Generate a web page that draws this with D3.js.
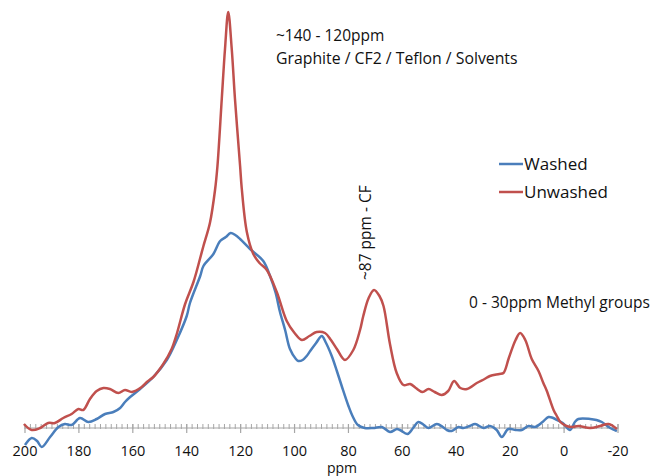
<!DOCTYPE html>
<html>
<head>
<meta charset="utf-8">
<script src="https://cdn.jsdelivr.net/npm/d3@7"></script>
<style>
  body { margin: 0; background: #fff; }
  text { font-family: "Open Sans", "Liberation Sans", sans-serif; fill: #111; }
</style>
</head>
<body>
<div class="chart"></div>
<script>
var svgWidth = 655;
var svgHeight = 476;

// chemical shift (ppm) and intensity (a.u.)
var washedPpm = [200, 197.5, 195.5, 193.8, 190.7, 187.6, 185.2, 182.7, 179.6, 176.5, 173.4, 170.3, 167.2,
  164.7, 162.9, 161, 157.3, 152.4, 147.4, 143.7, 140, 138.8, 135, 133.8, 130.1, 127.6, 125.5, 123.7, 122,
  120.2, 116.5, 111.6, 109.1, 107, 105.4, 103.5, 101.7, 99.5, 98.6, 97, 95.5, 94.2, 92, 89.9, 88.5, 86.2,
  84.3, 82.5, 80, 78.5, 76.5, 74, 70.8, 67.6, 64.6, 62, 60.9, 58.1, 56, 54.1, 52, 50.3, 47.2, 45, 43.5,
  41.7, 39.2, 37.4, 35, 33, 29.9, 27.5, 25, 23.1, 20.7, 18, 15.7, 13.2, 10.8, 8, 5.8, 4, 2.7, 0.5, -2.2,
  -4, -5.3, -9.7, -12, -14, -17.1, -19.6];
var washedVal = [-17, -10, -13, -19, -9, 1, 4, 3, 10, 6, 9, 14, 16,
  20, 26, 31, 39, 51, 68, 88, 112, 125, 152, 162, 174, 187, 191, 195, 193,
  189, 179, 167, 152, 135, 116, 98, 79, 69, 67, 68, 72, 77, 85, 92, 86, 72,
  57, 42, 22, 12, 3, 0, 0, 1, -4, -1, -2, -6, 0, 6, 3, 0, 4, 1, -2,
  -3, 1, 0, 2, 4, 0, 2, -2, -9, -1, -2, -2, 2, 1, 6, 11, 10, 8, 5, -2,
  6, 9, 9, 8, 6, 0, -3];

var unwashedPpm = [200.4, 197.5, 194.4, 191.4, 188.9, 185.8, 182.7, 180.2, 178.4, 175.9, 173.4, 170.9,
  168.5, 165.4, 162.9, 160.4, 156.7, 154.8, 152.4, 148.7, 145.6, 143.7, 140.6, 137.5, 135, 133.8, 131.4,
  129.5, 128.6, 127, 125.8, 124.6, 123.3, 122.1, 120.2, 119.6, 117.7, 115.3, 113, 110.3, 106.6, 102.9,
  100, 97.3, 94.5, 91.8, 88.7, 86.5, 84.3, 81.3, 78.2, 75.7, 74.5, 72.5, 70.5, 68.5, 67, 64.6, 62.1, 59.6,
  57.1, 55, 52.5, 50.3, 48, 45.4, 43, 40.8, 38.5, 36, 32.4, 29.5, 27.5, 24, 22.5, 20.5, 18, 16.3, 14.4,
  12, 9.5, 7.7, 6.4, 3.9, 2.7, 1.4, -0.9, -3, -5.3, -9.7, -13.4, -16.5, -19.6];
var unwashedVal = [4, -2, 0, 5, 5, 10, 14, 19, 18, 29, 37, 40,
  39, 35, 38, 36, 41, 46, 51, 64, 79, 94, 124, 146, 170, 182, 205,
  238, 262, 329, 379, 416, 379, 329, 262, 240, 196, 174, 165, 158, 136, 107,
  95, 88, 92, 96, 95, 88, 79, 68, 78, 98, 112, 130, 138, 132, 122, 84, 55, 43,
  44, 40, 36, 39, 36, 33, 37, 47, 40, 39, 45, 49, 52, 54, 55, 70, 88, 95, 88,
  69, 57, 45, 37, 18, 12, 6, 2, 1, 2, 0, 2, 4, -1];

var tickValues = [200, 180, 160, 140, 120, 100, 80, 60, 40, 20, 0, -20];
var seriesNames = ["Washed", "Unwashed"];
var seriesColors = ["#4a7ebb", "#c0504d"];

var svg = d3.select(".chart")
  .append("svg")
  .attr("width", svgWidth)
  .attr("height", svgHeight);

var xScale = d3.scaleLinear()
  .domain([200, -20])
  .range([25, 618]);

var yScale = d3.scaleLinear()
  .domain([0, 416])
  .range([428, 12]);

// axis: minor ticks every 2 ppm, major every 20
var axisG = svg.append("g");

axisG.selectAll("line.minor")
  .data(d3.range(200, -21, -2))
  .enter()
  .append("line")
  .attr("class", "minor")
  .attr("x1", d => xScale(d))
  .attr("x2", d => xScale(d))
  .attr("y1", yScale(0) - 4)
  .attr("y2", yScale(0) + 1)
  .attr("stroke", "#a6a6a6")
  .attr("stroke-width", 1);

axisG.selectAll("line.major")
  .data(tickValues)
  .enter()
  .append("line")
  .attr("class", "major")
  .attr("x1", d => xScale(d))
  .attr("x2", d => xScale(d))
  .attr("y1", yScale(0) - 4)
  .attr("y2", yScale(0) + 5)
  .attr("stroke", "#a6a6a6")
  .attr("stroke-width", 1.2);

axisG.append("line")
  .attr("x1", xScale(200))
  .attr("x2", xScale(-20))
  .attr("y1", yScale(0))
  .attr("y2", yScale(0))
  .attr("stroke", "#a6a6a6")
  .attr("stroke-width", 1.2);

axisG.selectAll("text.tick")
  .data(tickValues)
  .enter()
  .append("text")
  .attr("class", "tick")
  .attr("x", d => xScale(d))
  .attr("y", 456)
  .attr("text-anchor", "middle")
  .style("font-size", "14.5px")
  .text(d => d);

svg.append("text")
  .attr("x", 342)
  .attr("y", 473)
  .attr("text-anchor", "middle")
  .style("font-size", "14px")
  .text("ppm");

// spectra
var line = d3.line()
  .x(d => xScale(d[0]))
  .y(d => yScale(d[1]))
  .curve(d3.curveCatmullRom.alpha(0.5));

var washed = washedPpm.map((p, i) => [p, washedVal[i]]);
var unwashed = unwashedPpm.map((p, i) => [p, unwashedVal[i]]);

svg.append("path")
  .datum(washed)
  .attr("d", line)
  .attr("fill", "none")
  .attr("stroke", seriesColors[0])
  .attr("stroke-width", 2.5)
  .attr("stroke-linejoin", "round");

svg.append("path")
  .datum(unwashed)
  .attr("d", line)
  .attr("fill", "none")
  .attr("stroke", seriesColors[1])
  .attr("stroke-width", 2.5)
  .attr("stroke-linejoin", "round");

// legend
var legend = svg.selectAll("g.legend")
  .data(seriesNames)
  .enter()
  .append("g")
  .attr("class", "legend")
  .attr("transform", (d, i) => `translate(499, ${164 + i * 28})`);

legend.append("line")
  .attr("x1", 0)
  .attr("x2", 24)
  .attr("stroke", (d, i) => seriesColors[i])
  .attr("stroke-width", 2.5);

legend.append("text")
  .attr("x", 25)
  .attr("y", 6)
  .style("font-size", "17px")
  .text(d => d);

// annotations
svg.append("text")
  .attr("x", 276)
  .attr("y", 41)
  .style("font-size", "15.5px")
  .text("~140 - 120ppm");

svg.append("text")
  .attr("x", 276)
  .attr("y", 64)
  .style("font-size", "15.8px")
  .text("Graphite / CF2 / Teflon / Solvents");

svg.append("text")
  .attr("transform", "translate(371, 280)rotate(-90)")
  .style("font-size", "15.5px")
  .text("~87 ppm - CF");

svg.append("text")
  .attr("x", 469)
  .attr("y", 308)
  .style("font-size", "15.5px")
  .text("0 - 30ppm Methyl groups");
</script>
</body>
</html>
